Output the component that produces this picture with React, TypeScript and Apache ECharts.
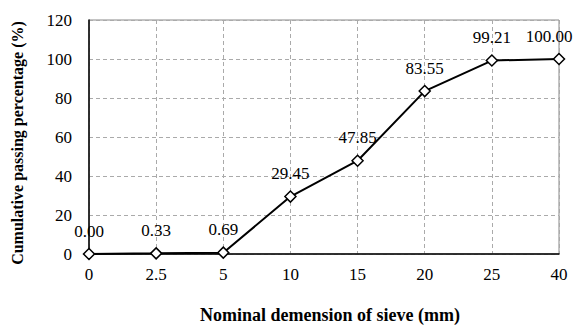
import React, { useEffect, useRef } from "react";
import * as echarts from "echarts";

const categories = ["0", "2.5", "5", "10", "15", "20", "25", "40"];
const passing = [0.0, 0.33, 0.69, 29.45, 47.85, 83.55, 99.21, 100.0];
const yTicks = { min: 0, max: 120, interval: 20 };

export default function App() {
  const ref = useRef<HTMLDivElement>(null);
  useEffect(() => {
    const chart = echarts.init(ref.current!, null, { renderer: "svg" });
    const font = "Liberation Serif";
    chart.setOption({
      animation: false,
      textStyle: { fontFamily: font },
      grid: {
        left: 89, right: 15, top: 20, bottom: 71, show: true, borderColor: "#888", borderWidth: 1,
        outerBoundsMode: "none", containLabel: false,
      },
      xAxis: {
        type: "category",
        data: categories,
        boundaryGap: false,
        name: "Nominal demension of sieve (mm)",
        nameLocation: "middle",
        nameGap: 52,
        nameTextStyle: { fontFamily: font, fontWeight: "bold", fontSize: 18, color: "#000", padding: [0, 0, 0, 12] },
        axisLine: { lineStyle: { color: "#000", width: 1.5 } },
        axisTick: { show: false },
        axisLabel: { fontFamily: font, fontSize: 17, color: "#000", margin: 12 },
        splitLine: { show: true, lineStyle: { color: "#aaa", type: [4, 3], width: 1 } },
      },
      yAxis: {
        type: "value",
        min: yTicks.min,
        max: yTicks.max,
        interval: yTicks.interval,
        name: "Cumulative passing percentage (%)",
        nameLocation: "middle",
        nameGap: 64,
        nameRotate: 90,
        nameTextStyle: { fontFamily: font, fontWeight: "bold", fontSize: 16, color: "#000", padding: [0, 12, 0, 0] },
        axisLine: { show: true, lineStyle: { color: "#000", width: 1.5 } },
        axisTick: { show: false },
        axisLabel: { fontFamily: font, fontSize: 17, color: "#000", margin: 17 },
        splitLine: { show: true, lineStyle: { color: "#aaa", type: [4, 3], width: 1 } },
      },
      series: [
        {
          type: "line",
          data: passing.map((v, i) =>
            i === passing.length - 1 ? { value: v, label: { offset: [-10, 0] } } : v
          ),
          symbol: "diamond",
          symbolSize: 11,
          showAllSymbol: true,
          lineStyle: { color: "#000", width: 2 },
          itemStyle: { color: "#fff", borderColor: "#000", borderWidth: 1.5 },
          label: {
            show: true,
            position: "top",
            distance: 8,
            fontFamily: font,
            fontSize: 17,
            color: "#000",
            formatter: (p: any) => Number(p.value).toFixed(2),
          },
          clip: false,
        },
      ],
    });
    return () => chart.dispose();
  }, []);
  return <div ref={ref} style={{ width: 574, height: 325, position: "absolute", left: 0, top: 0 }} />;
}
